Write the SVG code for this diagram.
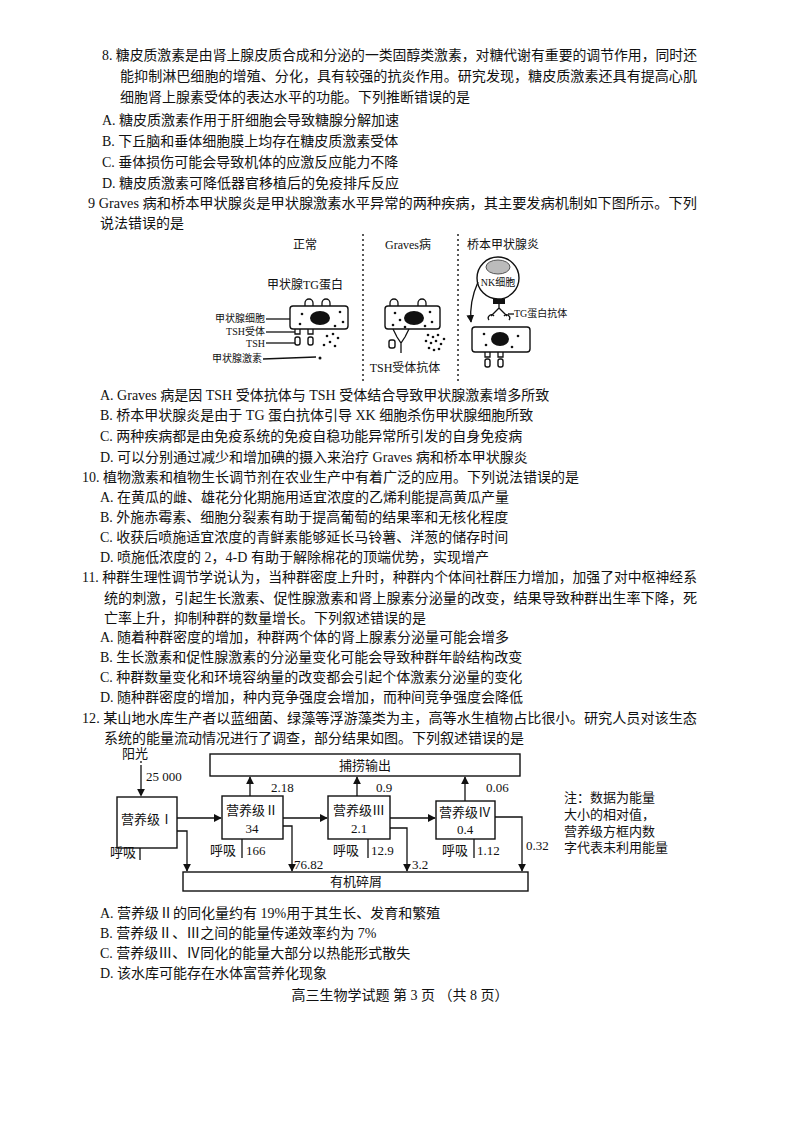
<svg xmlns="http://www.w3.org/2000/svg" width="800" height="1132" viewBox="0 0 800 1132">
<defs>
<marker id="ah" viewBox="0 0 10 10" refX="9" refY="5" markerWidth="6" markerHeight="6" orient="auto"><path d="M0,0 L10,5 L0,10 z" fill="#111"/></marker>
<style>
text{font-family:"Liberation Serif","Noto Sans CJK SC",serif;fill:#111}
.t{font-size:14px}
.f{font-size:12px}
.s{font-size:10px}
.g{font-size:13px}
.ln{stroke:#111;stroke-width:1.3;fill:none}
.bx{stroke:#111;stroke-width:1.4;fill:#fff}
.dv{stroke:#222;stroke-width:1.5;stroke-dasharray:2,3}
</style>
</defs>
<rect width="800" height="1132" fill="#fff"/>
<g id="text">
<text class="t" x="102" y="60" textLength="595" lengthAdjust="spacingAndGlyphs">8. 糖皮质激素是由肾上腺皮质合成和分泌的一类固醇类激素，对糖代谢有重要的调节作用，同时还</text>
<text class="t" x="120" y="81" textLength="577" lengthAdjust="spacingAndGlyphs">能抑制淋巴细胞的增殖、分化，具有较强的抗炎作用。研究发现，糖皮质激素还具有提高心肌</text>
<text class="t" x="120" y="102">细胞肾上腺素受体的表达水平的功能。下列推断错误的是</text>
<text class="t" x="102" y="125">A. 糖皮质激素作用于肝细胞会导致糖腺分解加速</text>
<text class="t" x="102" y="146">B. 下丘脑和垂体细胞膜上均存在糖皮质激素受体</text>
<text class="t" x="102" y="167">C. 垂体损伤可能会导致机体的应激反应能力不降</text>
<text class="t" x="102" y="188">D. 糖皮质激素可降低器官移植后的免疫排斥反应</text>
<text class="t" x="88" y="208" textLength="609" lengthAdjust="spacingAndGlyphs">9  Graves 病和桥本甲状腺炎是甲状腺激素水平异常的两种疾病，其主要发病机制如下图所示。下列</text>
<text class="t" x="100" y="228">说法错误的是</text>
<text class="t" x="100" y="400">A.   Graves 病是因  TSH  受体抗体与 TSH  受体结合导致甲状腺激素增多所致</text>
<text class="t" x="100" y="420">B. 桥本甲状腺炎是由于  TG  蛋白抗体引导 XK 细胞杀伤甲状腺细胞所致</text>
<text class="t" x="100" y="441">C. 两种疾病都是由免疫系统的免疫自稳功能异常所引发的自身免疫病</text>
<text class="t" x="100" y="462">D. 可以分别通过减少和增加碘的摄入来治疗  Graves 病和桥本甲状腺炎</text>
<text class="t" x="82" y="482">10. 植物激素和植物生长调节剂在农业生产中有着广泛的应用。下列说法错误的是</text>
<text class="t" x="100" y="502">A. 在黄瓜的雌、雄花分化期施用适宜浓度的乙烯利能提高黄瓜产量</text>
<text class="t" x="100" y="522">B. 外施赤霉素、细胞分裂素有助于提高葡萄的结果率和无核化程度</text>
<text class="t" x="100" y="542">C. 收获后喷施适宜浓度的青鲜素能够延长马铃薯、洋葱的储存时间</text>
<text class="t" x="100" y="562">D. 喷施低浓度的 2，4-D 有助于解除棉花的顶端优势，实现增产</text>
<text class="t" x="82" y="582" textLength="615" lengthAdjust="spacingAndGlyphs">11. 种群生理性调节学说认为，当种群密度上升时，种群内个体间社群压力增加，加强了对中枢神经系</text>
<text class="t" x="104" y="603" textLength="593" lengthAdjust="spacingAndGlyphs">统的刺激，引起生长激素、促性腺激素和肾上腺素分泌量的改变，结果导致种群出生率下降，死</text>
<text class="t" x="104" y="623">亡率上升，抑制种群的数量增长。下列叙述错误的是</text>
<text class="t" x="100" y="642">A. 随着种群密度的增加，种群两个体的肾上腺素分泌量可能会增多</text>
<text class="t" x="100" y="662">B. 生长激素和促性腺激素的分泌量变化可能会导致种群年龄结构改变</text>
<text class="t" x="100" y="682">C. 种群数量变化和环境容纳量的改变都会引起个体激素分泌量的变化</text>
<text class="t" x="100" y="702">D. 随种群密度的增加，种内竞争强度会增加，而种间竞争强度会降低</text>
<text class="t" x="82" y="723" textLength="615" lengthAdjust="spacingAndGlyphs">12. 某山地水库生产者以蓝细菌、绿藻等浮游藻类为主，高等水生植物占比很小。研究人员对该生态</text>
<text class="t" x="104" y="743">系统的能量流动情况进行了调查，部分结果如图。下列叙述错误的是</text>
<text class="t" x="100" y="918">A. 营养级Ⅱ的同化量约有  19%用于其生长、发育和繁殖</text>
<text class="t" x="100" y="938">B. 营养级Ⅱ、Ⅲ之间的能量传递效率约为 7%</text>
<text class="t" x="100" y="958">C. 营养级Ⅲ、Ⅳ同化的能量大部分以热能形式散失</text>
<text class="t" x="100" y="978">D. 该水库可能存在水体富营养化现象</text>
<text class="t" x="400" y="1000" text-anchor="middle">高三生物学试题  第 3 页  （共 8 页）</text>
</g>
<g id="figure1">
<line class="dv" x1="363" y1="234" x2="363" y2="382"/>
<line class="dv" x1="458" y1="234" x2="458" y2="382"/>
<text class="f" x="305" y="249" text-anchor="middle">正常</text>
<text class="f" x="408" y="249" text-anchor="middle">Graves病</text>
<text class="f" x="503" y="249" text-anchor="middle">桥本甲状腺炎</text>
<g id="normal">
<text class="f" x="305" y="289" text-anchor="middle">甲状腺TG蛋白</text>
<path class="ln" d="M305,306 v-3 a4,4 0 0 1 8,0 v3 M322,306 v-3 a4,4 0 0 1 8,0 v3"/>
<rect class="bx" x="290" y="306" width="58" height="23" rx="3"/>
<ellipse cx="320" cy="318" rx="10" ry="7" fill="#111"/>
<g fill="#111"><circle cx="302" cy="314" r="1.3"/><circle cx="340" cy="312" r="1.3"/><circle cx="343" cy="322" r="1.3"/><circle cx="335" cy="326" r="1.3"/><circle cx="300" cy="324" r="1.3"/>
<circle cx="327" cy="336" r="1.3"/><circle cx="333" cy="334" r="1.3"/><circle cx="338" cy="338" r="1.3"/><circle cx="330" cy="342" r="1.3"/><circle cx="324" cy="345" r="1.3"/><circle cx="335" cy="346" r="1.3"/><circle cx="320" cy="358" r="1.5"/></g>
<path class="ln" d="M295,329 v5 h5 v-5 M308,329 v5 h5 v-5"/>
<rect class="bx" x="295" y="337" width="5" height="8" rx="2"/><rect class="bx" x="308" y="337" width="5" height="8" rx="2"/>
<text class="s" x="265" y="322" text-anchor="end">甲状腺细胞</text>
<line class="ln" x1="266" y1="319" x2="290" y2="319"/>
<text class="s" x="265" y="335" text-anchor="end">TSH受体</text>
<line class="ln" x1="266" y1="332" x2="295" y2="332"/>
<text class="s" x="265" y="347" text-anchor="end">TSH</text>
<line class="ln" x1="266" y1="343" x2="295" y2="343"/>
<text class="s" x="262" y="362" text-anchor="end">甲状腺激素</text>
<line class="ln" x1="263" y1="359" x2="316" y2="357"/>
</g>
<g id="graves">
<path class="ln" d="M390,306 v-3 a4,4 0 0 1 8,0 v3 M418,306 v-3 a4,4 0 0 1 8,0 v3"/>
<rect class="bx" x="385" y="306" width="55" height="23" rx="3"/>
<ellipse cx="414" cy="318" rx="10" ry="7" fill="#111"/>
<g fill="#111"><circle cx="395" cy="313" r="1.3"/><circle cx="400" cy="320" r="1.3"/><circle cx="393" cy="325" r="1.3"/><circle cx="430" cy="312" r="1.3"/><circle cx="432" cy="322" r="1.3"/><circle cx="425" cy="326" r="1.3"/><circle cx="405" cy="327" r="1.3"/>
<circle cx="428" cy="335" r="1.3"/><circle cx="433" cy="337" r="1.3"/><circle cx="438" cy="335" r="1.3"/><circle cx="426" cy="341" r="1.3"/><circle cx="431" cy="343" r="1.3"/><circle cx="436" cy="341" r="1.3"/><circle cx="441" cy="344" r="1.3"/><circle cx="429" cy="348" r="1.3"/><circle cx="434" cy="350" r="1.3"/><circle cx="439" cy="349" r="1.3"/><circle cx="444" cy="339" r="1.3"/></g>
<path class="ln" d="M393,329 l4,8 M409,329 l-4,8 M397,337 l4,6 l4,-6 M401,343 v10"/>
<rect class="bx" x="389" y="340" width="6" height="8" rx="2"/>
<text class="f" x="405" y="372" text-anchor="middle">TSH受体抗体</text>
</g>
<g id="hashimoto">
<circle class="bx" cx="498" cy="278" r="21"/>
<ellipse cx="498" cy="267" rx="12" ry="7" fill="#bbb" stroke="#555"/>
<text class="s" x="498" y="286" text-anchor="middle">NK细胞</text>
<path class="ln" d="M478,282 C470,300 470,312 471,322" marker-end="url(#ah)"/>
<rect x="493" y="299" width="12" height="5" fill="#111"/>
<path class="ln" d="M499,304 v4 M499,308 l-8,8 M499,308 l8,8"/>
<path class="ln" d="M489,320 a3,3 0 0 1 5,-4 M504,316 a3,3 0 0 1 5,4"/>
<text class="s" x="514" y="317">TG蛋白抗体</text>
<line class="ln" x1="508" y1="314" x2="514" y2="314"/>
<rect class="bx" x="472" y="327" width="58" height="25" rx="3"/>
<ellipse cx="500" cy="339" rx="9" ry="7" fill="#111"/>
<g fill="#111"><circle cx="484" cy="334" r="1.3"/><circle cx="518" cy="336" r="1.3"/><circle cx="512" cy="347" r="1.3"/><circle cx="486" cy="345" r="1.3"/></g>
<path class="ln" d="M485,352 v5 h5 v-5 M498,352 v5 h5 v-5"/>
<rect class="bx" x="485" y="359" width="5" height="8" rx="2"/><rect class="bx" x="498" y="359" width="5" height="8" rx="2"/>
</g>
</g>
<g id="figure2">
<g id="n-sun"><text class="g" x="135" y="758" text-anchor="middle">阳光</text><text class="g" x="146" y="781">25 000</text></g>
<g id="n-catch"><rect class="bx" x="210" y="754" width="310" height="22"/><text class="g" x="365" y="770" text-anchor="middle">捕捞输出</text></g>
<g id="n-l1"><rect class="bx" x="117" y="797" width="60" height="51"/><text class="g" x="147" y="824" text-anchor="middle">营养级Ⅰ</text></g>
<g id="n-l2"><rect class="bx" x="222" y="796" width="61" height="43"/><text class="g" x="252" y="815" text-anchor="middle">营养级Ⅱ</text><text class="g" x="252" y="833" text-anchor="middle">34</text></g>
<g id="n-l3"><rect class="bx" x="328" y="796" width="62" height="43"/><text class="g" x="359" y="815" text-anchor="middle">营养级Ⅲ</text><text class="g" x="359" y="833" text-anchor="middle">2.1</text></g>
<g id="n-l4"><rect class="bx" x="436" y="801" width="59" height="38"/><text class="g" x="465" y="817" text-anchor="middle">营养级Ⅳ</text><text class="g" x="465" y="834" text-anchor="middle">0.4</text></g>
<g id="n-detritus"><rect class="bx" x="183" y="872" width="345" height="19"/><text class="g" x="356" y="886" text-anchor="middle">有机碎屑</text></g>
<g id="connectors">
<line class="ln" x1="141" y1="761" x2="141" y2="796" stroke-dasharray="2,2 30" marker-end="url(#ah)"/>
<line class="ln" x1="250" y1="796" x2="250" y2="777" marker-end="url(#ah)"/>
<line class="ln" x1="357" y1="796" x2="357" y2="777" marker-end="url(#ah)"/>
<line class="ln" x1="465" y1="801" x2="465" y2="777" marker-end="url(#ah)"/>
<line class="ln" x1="177" y1="818" x2="221" y2="818" marker-end="url(#ah)"/>
<line class="ln" x1="283" y1="818" x2="327" y2="818" marker-end="url(#ah)"/>
<line class="ln" x1="390" y1="818" x2="435" y2="818" marker-end="url(#ah)"/>
<polyline class="ln" points="177,831 187,831 187,871" marker-end="url(#ah)"/>
<polyline class="ln" points="283,826 292,826 292,871" marker-end="url(#ah)"/>
<polyline class="ln" points="390,828 407,828 407,871" marker-end="url(#ah)"/>
<polyline class="ln" points="495,817 522,817 522,871" marker-end="url(#ah)"/>
<line class="ln" x1="140" y1="848" x2="140" y2="860"/>
<line class="ln" x1="242" y1="839" x2="242" y2="858"/>
<line class="ln" x1="368" y1="839" x2="368" y2="858"/>
<line class="ln" x1="474" y1="839" x2="474" y2="858"/>
</g>
<g id="labels">
<text class="g" x="271" y="792">2.18</text>
<text class="g" x="376" y="792">0.9</text>
<text class="g" x="486" y="792">0.06</text>
<text class="g" x="110" y="857">呼吸</text>
<text class="g" x="210" y="855">呼吸</text><text class="g" x="246" y="855">166</text>
<text class="g" x="333" y="855">呼吸</text><text class="g" x="371" y="855">12.9</text>
<text class="g" x="442" y="855">呼吸</text><text class="g" x="477" y="855">1.12</text>
<text class="g" x="294" y="869">76.82</text>
<text class="g" x="412" y="869">3.2</text>
<text class="g" x="526" y="850">0.32</text>
</g>
<g id="note">
<text class="g" x="564" y="802">注：数据为能量</text>
<text class="g" x="564" y="819">大小的相对值，</text>
<text class="g" x="564" y="836">营养级方框内数</text>
<text class="g" x="564" y="852">字代表未利用能量</text>
</g>
</g>
</svg>
